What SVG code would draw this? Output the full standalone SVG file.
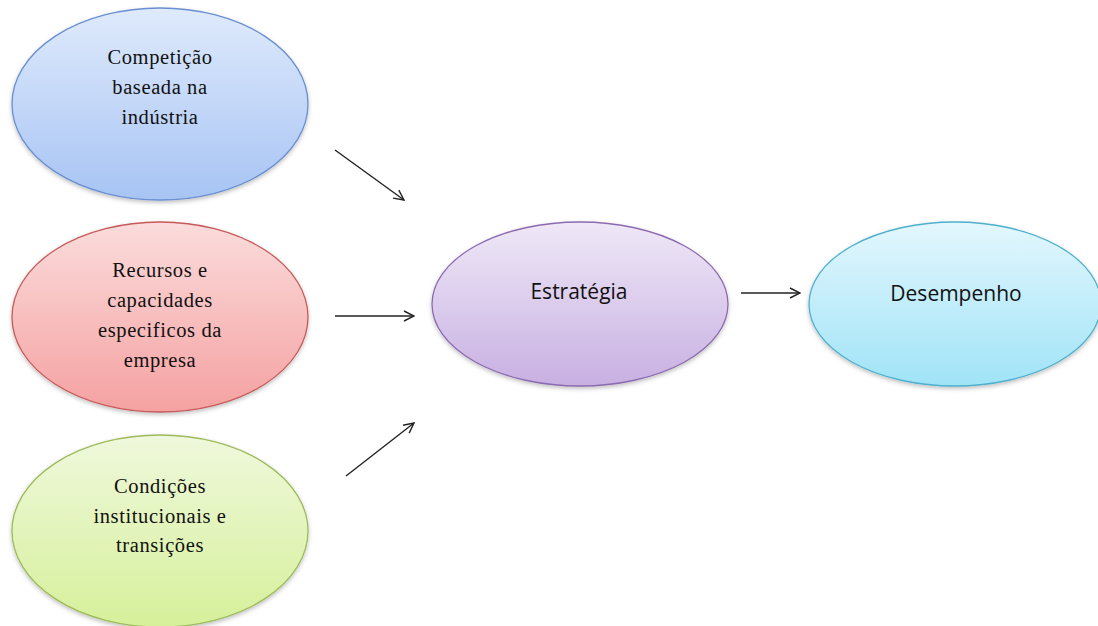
<svg xmlns="http://www.w3.org/2000/svg" width="1098" height="626" viewBox="0 0 1098 626">
<style>
.serif{font-family:"Liberation Serif","Times New Roman",serif;font-size:20.5px;letter-spacing:0.6px;fill:#111;text-anchor:middle}
.sans{font-family:"Open Sans","Liberation Sans",sans-serif;font-size:21px;fill:#111;text-anchor:middle}
.conn{stroke:#222;stroke-width:1.4;fill:none;marker-end:url(#arr)}
ellipse{stroke-width:1.3}
</style>
<defs>
<marker id="arr" viewBox="0 0 12 12" refX="11" refY="6" markerWidth="12" markerHeight="12" markerUnits="userSpaceOnUse" orient="auto">
<path d="M1,1 L11,6 L1,11" fill="none" stroke="#222" stroke-width="1.4"/>
</marker>
<linearGradient id="gBlue" x1="0" y1="0" x2="0" y2="1"><stop offset="0" stop-color="#dfeafc"/><stop offset="1" stop-color="#a7c4f4"/></linearGradient>
<linearGradient id="gRed" x1="0" y1="0" x2="0" y2="1"><stop offset="0" stop-color="#fbdcdc"/><stop offset="1" stop-color="#f5a1a1"/></linearGradient>
<linearGradient id="gGreen" x1="0" y1="0" x2="0" y2="1"><stop offset="0" stop-color="#eff8dc"/><stop offset="1" stop-color="#d6f09a"/></linearGradient>
<linearGradient id="gPurple" x1="0" y1="0" x2="0" y2="1"><stop offset="0" stop-color="#efe8f7"/><stop offset="1" stop-color="#c8b0e2"/></linearGradient>
<linearGradient id="gCyan" x1="0" y1="0" x2="0" y2="1"><stop offset="0" stop-color="#e3f7fd"/><stop offset="1" stop-color="#a0e3f7"/></linearGradient>
<filter id="sh" x="-10%" y="-10%" width="120%" height="125%"><feDropShadow dx="0" dy="2" stdDeviation="2" flood-color="#000" flood-opacity="0.25"/></filter>
</defs>
<rect width="1098" height="626" fill="#fff"/>
<g id="competicao">
<ellipse cx="160" cy="104" rx="148" ry="96" fill="url(#gBlue)" stroke="#6a8fd0" filter="url(#sh)"/>
<text class="serif" x="160" y="64">Competição</text>
<text class="serif" x="160" y="94">baseada na</text>
<text class="serif" x="160" y="124">indústria</text>
</g>
<g id="recursos">
<ellipse cx="160" cy="317" rx="148" ry="95" fill="url(#gRed)" stroke="#c65a5a" filter="url(#sh)"/>
<text class="serif" x="160" y="277">Recursos e</text>
<text class="serif" x="160" y="307">capacidades</text>
<text class="serif" x="160" y="337">especificos da</text>
<text class="serif" x="160" y="367">empresa</text>
</g>
<g id="condicoes">
<ellipse cx="160" cy="531" rx="148" ry="96" fill="url(#gGreen)" stroke="#9dbb5a" filter="url(#sh)"/>
<text class="serif" x="160" y="493">Condições</text>
<text class="serif" x="160" y="523">institucionais e</text>
<text class="serif" x="160" y="552">transições</text>
</g>
<g id="estrategia">
<ellipse cx="580" cy="304" rx="148" ry="82" fill="url(#gPurple)" stroke="#8c6bb0" filter="url(#sh)"/>
<text class="sans" x="579" y="299">Estratégia</text>
</g>
<g id="desempenho">
<ellipse cx="955" cy="304" rx="146" ry="82" fill="url(#gCyan)" stroke="#4fb0cc" filter="url(#sh)"/>
<text class="sans" x="956" y="301">Desempenho</text>
</g>
<g id="connectors">
<line class="conn" x1="335" y1="150" x2="404" y2="200"/>
<line class="conn" x1="335" y1="316" x2="414" y2="316"/>
<line class="conn" x1="346" y1="476" x2="414" y2="423"/>
<line class="conn" x1="741" y1="293" x2="800" y2="293"/>
</g>
</svg>
